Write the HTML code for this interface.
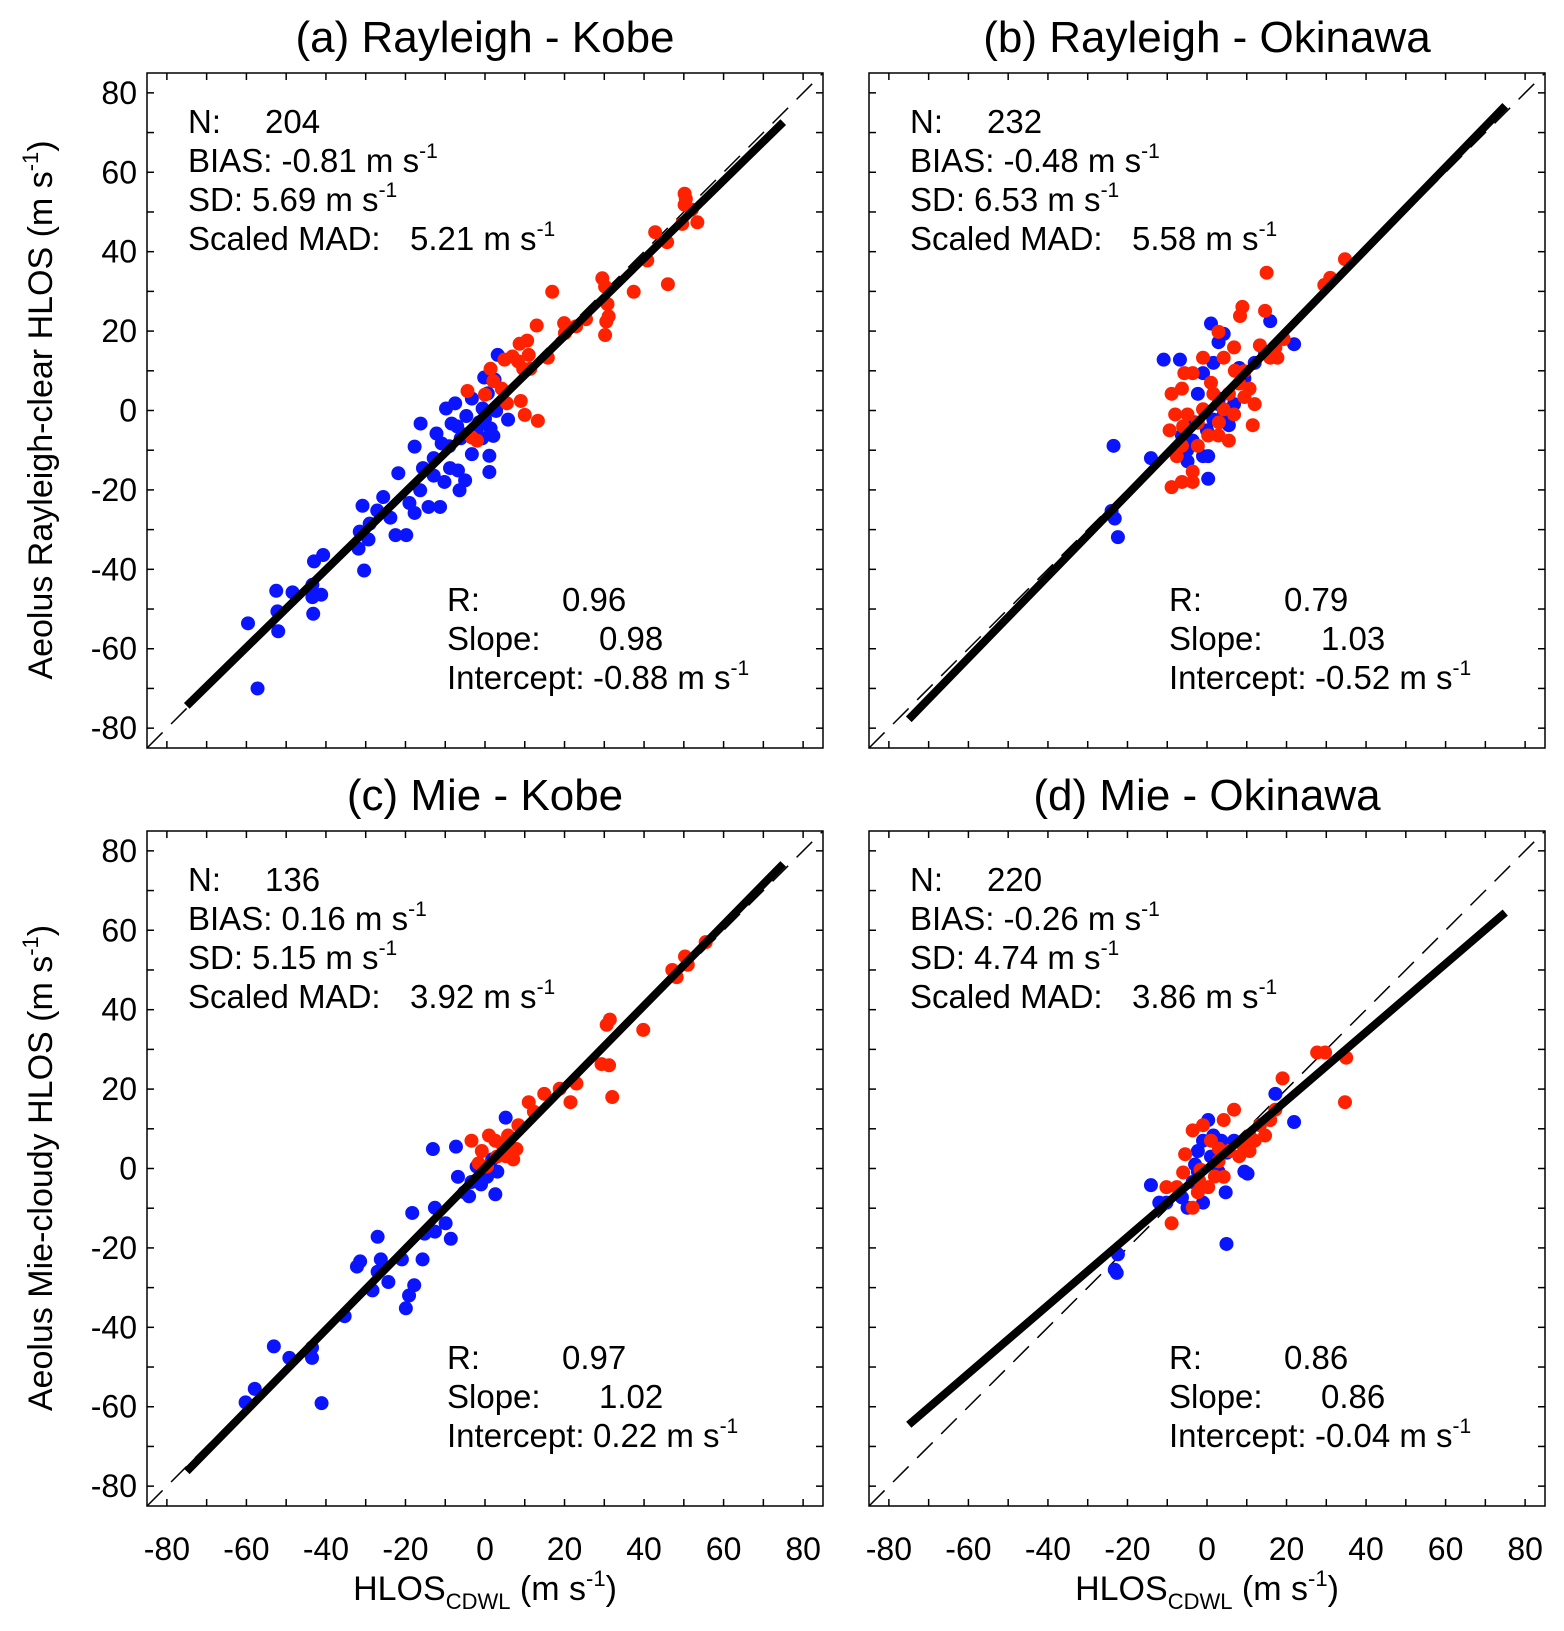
<!DOCTYPE html>
<html><head><meta charset="utf-8"><style>
html,body{margin:0;padding:0;background:#fff;}
svg text{font-family:"Liberation Sans",sans-serif;fill:#000;}
</style></head><body>
<svg id="fig" width="1564" height="1626" viewBox="0 0 1564 1626" xmlns="http://www.w3.org/2000/svg"></svg>
<script>
// ---- data (x = HLOS_CDWL, y = Aeolus HLOS, m/s) ----
const aBlueX=[-59.6,-57.2,-52.5,-52.2,-52,-48.4,-43.4,-43,-40.7,-43.4,-41.2,-43.2,-31.8,-31.5,-30.8,-30.4,-29.3,-29,-27.1,-25.6,-23.8,-22.5,-21.8,-19.8,-19,-17.7,-17.7,-16.3,-16.2,-15.6,-14.2,-12.9,-12.9,-12.2,-11.3,-10.9,-10.2,-9.8,-8.8,-8.4,-7.5,-6.8,-6.4,-6.1,-5,-4.7,-3.3,-3.3,-2,-0.7,-0.2,0,0.7,1.1,1.1,1.4,2.1,2.4,2.8,3.2,5.8,-0.6,-9,-7,-5.5,-1.5];
const aBlueY=[-53.6,-70,-45.4,-50.6,-55.6,-45.8,-43.9,-38,-36.4,-47,-46.4,-51.2,-34.8,-30.5,-24,-40.3,-32.5,-28.5,-25.2,-21.8,-27,-31.4,-15.8,-31.4,-23.3,-25.8,-9.1,-20.1,-3.3,-14.5,-24.3,-16.4,-12,-5.8,-24.3,-8.3,-18,0.5,-14.5,-3.3,1.8,-15.1,-20.1,-7,-17.6,-1.4,-11,3,-4.5,-7,8.3,-2,4.3,-11.4,-15.5,-4.5,-6.4,7.8,-0.1,14,-2.3,0.5,-9,-4,-6,-3];
const aRedX=[-4.4,-3.3,-2,0,1.4,2.1,4.2,4.9,5.5,6.9,8.3,8.7,9,9.6,10,10.6,11,11.4,13,13.3,15.8,16.9,19.9,20.1,22.9,25.4,29.5,30.2,30.5,30.8,31.1,30.2,37.4,40.8,42.8,45.8,46,50.2,50.5,50.2,49.6,53.4,52];
const aRedY=[4.9,-6.8,-7.6,4,10.5,7.4,5.5,12.8,1.8,13.6,12.4,16.8,2.4,10.5,-1.1,17.6,14,10.5,21.4,-2.6,13.3,29.9,22,19.5,21.2,23,33.3,31.2,22.4,26.8,23.7,19,29.9,37.8,44.9,42.4,31.8,54.6,53.3,51.8,47,47.4,50.6];
const bBlueX=[-23.2,-22.4,-24,-23.5,-14.1,-10.9,-6.8,1,2.9,4.2,0.3,-1,-3.6,1.6,4.2,6.8,9.4,12,14.6,15.9,21.9,-6.3,-2.3,-1,2.9,5.5,0.3,-4.9,1.6,8.1,-3,0,3,-5];
const bBlueY=[-27.2,-31.9,-25.3,-8.9,-12,12.8,12.8,21.9,17.2,19.3,-17.2,-11.5,-7.6,-2.3,-1,1.6,8.1,12,14.6,22.5,16.7,-6.3,4.2,9.4,1.6,-3.7,-11.5,-12.8,12,10.7,-3,-5,3,-10];
const bRedX=[34.7,31,29.5,15,8.9,8.3,14.6,19.3,17.7,13.3,2.9,4.2,6.8,9.4,12,11.5,-1,-3.6,-6.3,-8.9,-9.4,-7.6,-8.9,-6.3,-3.6,-4.9,0.3,2.9,5.5,6.8,1.6,-1,-2.3,-6.3,5.5,8.1,10.7,15.9,17.2,-3.6,-2.3,4.2,-5.7,9.4,-8,-6,1,3,7];
const bRedY=[38.1,33.4,31.6,34.7,26.1,23.8,25.1,18,13.3,16.4,19.8,13.3,15.9,9.9,1.6,-3.7,13.3,9.4,5.5,4.2,-5,-11.5,-19.3,-18,-15.4,-1,-6.3,-6.3,-7.6,-1,4.2,0.3,-8.9,-8.9,4.2,6.8,5.5,13.3,15.9,-18,-3.1,0.3,9.4,3.4,-1,-4,7,-3,10];
const cBlueX=[-60.2,-57.9,-53.1,-49.2,-44,-43.5,-43.5,-41.1,-35.3,-31.4,-32.2,-27,-26.2,-27,-28.3,-24.3,-20.9,-19.1,-17.8,-19.9,-18.3,-15.7,-15.2,-12.6,-13.1,-12.6,-9.9,-8.6,-7.3,-6.8,-5.2,-3.4,-2.1,0.5,2.6,3.1,5.2,1.8,-4,-1];
const cBlueY=[-58.9,-55.5,-44.8,-47.7,-46.4,-45.1,-47.7,-59.1,-37.2,-23.4,-24.7,-17.2,-22.9,-26,-30.7,-28.6,-22.9,-32,-29.4,-35.2,-11.2,-22.9,-16.4,-15.9,4.9,-9.9,-13.8,-17.7,5.5,-2.1,-6,-3.4,0.5,-2.1,-6.5,-0.8,12.8,2.3,-7,-4];
const cRedX=[-3.4,-0.8,1,2.6,4.5,5.8,7.9,8.4,7.1,5.2,-1.6,0.5,11,12.3,14.9,18.8,21.5,23,29.3,30.6,31.4,31.2,32,39.8,47.1,48.2,50.3,51,55.5,3,6];
const cRedY=[7,4.4,8.3,7,5.7,8.3,4.9,10.9,2.3,3.1,1.3,0.5,16.7,14.3,18.8,20.1,16.7,21.4,26.3,36.2,37.5,26,18,34.9,50,48.2,53.4,51.3,57,3,6];
const dBlueX=[-22.4,-23.2,-22.7,-14.1,-12,-10.2,-6.3,-3.6,-2.3,-1,0.3,1.6,2.9,4.7,4.9,3.6,6.8,9.4,10.2,17.2,21.9,-1,-2.3,-4.9,1,-3,5];
const dBlueY=[-21.6,-25.5,-26.3,-4.2,-8.6,-8.6,-7.3,-3.4,4.4,7,12.2,8.3,-0.8,-6,-19,7,7,-0.8,-1.3,18.8,11.7,-8.6,-0.8,-9.9,3,1,4];
const dRedX=[34.7,35,27.7,29.7,19,17.2,15.9,13.3,10.7,6.8,4.2,-1,-3.6,-5.5,-8.9,-7.6,-3.6,-2.3,0.3,2.9,5.5,8.1,10.7,12,14.6,1,4.2,-1.6,-10.2,-6,-2,3,9,2];
const dRedY=[16.7,27.9,29.2,29.2,22.7,14.8,12.2,10.9,8.3,14.8,12.2,10.9,9.6,3.6,-13.8,-4.7,-9.9,-6,-4.7,1.8,4.4,3.1,4.4,7,8.3,7,-2.1,-0.3,-4.7,-1,-3,5,6,-2];
const slopes=[0.98,1.03,1.02,0.86];
const intercepts=[-0.88,-0.52,0.22,-0.04];
const titles=["(a) Rayleigh - Kobe","(b) Rayleigh - Okinawa","(c) Mie - Kobe","(d) Mie - Okinawa"];
const statN=["204","232","136","220"];
const statBias=["-0.81","-0.48","0.16","-0.26"];
const statSD=["5.69","6.53","5.15","4.74"];
const statMAD=["5.21","5.58","3.92","3.86"];
const statR=["0.96","0.79","0.97","0.86"];
const statSlope=["0.98","1.03","1.02","0.86"];
const statInt=["-0.88","-0.52","0.22","-0.04"];
const tickVals=[-80,-60,-40,-20,0,20,40,60,80];
const minorVals=[-80,-70,-60,-50,-40,-30,-20,-10,0,10,20,30,40,50,60,70,80];

const NS="http://www.w3.org/2000/svg";
const svg=document.getElementById('fig');
function mk(tag,attrs,parent){const e=document.createElementNS(NS,tag);for(const k in attrs)e.setAttribute(k,attrs[k]);(parent||svg).appendChild(e);return e;}
const W=676,H=675,LO=-85,HI=85;
const panels=[{x:147,y:73},{x:869,y:73},{x:147,y:831},{x:869,y:831}];
const blues=[[aBlueX,aBlueY],[bBlueX,bBlueY],[cBlueX,cBlueY],[dBlueX,dBlueY]];
const reds=[[aRedX,aRedY],[bRedX,bRedY],[cRedX,cRedY],[dRedX,dRedY]];
const keys=['a','b','c','d'];

function supText(parent,x,y,pre,name){
  const t=mk('text',{x:x,y:y,'font-size':33},parent);
  
  
  t.appendChild(document.createTextNode(pre));
  const s=mk('tspan',{dy:-14,'font-size':21},t);s.textContent='-1';
  return t;
}
function plain(parent,x,y,str,name){
  const t=mk('text',{x:x,y:y,'font-size':33},parent);
  
  
  t.textContent=str;
  return t;
}

panels.forEach((p,i)=>{
  const sx=v=>p.x+(v-LO)/(HI-LO)*W;
  const sy=v=>p.y+H-(v-LO)/(HI-LO)*H;
  const g=mk('g',{});
  
  
  const title=mk('text',{x:p.x+W/2,y:p.y-21,'font-size':44,'text-anchor':'middle'},g);
  
  
  title.textContent=titles[i];
  minorVals.forEach(v=>{
    const X=sx(v),Y=sy(v);
    [[X,p.y+H,X,p.y+H-7],[X,p.y,X,p.y+7],[p.x,Y,p.x+7,Y],[p.x+W,Y,p.x+W-7,Y]].forEach(c=>{
      const l=mk('line',{x1:c[0],y1:c[1],x2:c[2],y2:c[3],stroke:'#000','stroke-width':1.5},g);
      
      
    });
  });
  if(i%2===0){
    tickVals.forEach(v=>{
      const t=mk('text',{x:p.x-10,y:sy(v)+11,'font-size':32,'text-anchor':'end'},g);
      
      
      t.textContent=v;
    });
  }
  if(i>=2){
    tickVals.forEach(v=>{
      const t=mk('text',{x:sx(v),y:p.y+H+54,'font-size':32,'text-anchor':'middle'},g);
      
      
      t.textContent=v;
    });
  }
  const cp=mk('clipPath',{id:'clip'+i},g);
  mk('rect',{x:p.x,y:p.y,width:W,height:H},cp);
  const inner=mk('g',{'clip-path':'url(#clip'+i+')'},g);
  const d=mk('line',{x1:sx(LO),y1:sy(LO),x2:sx(HI),y2:sy(HI),stroke:'#000','stroke-width':1.5,'stroke-dasharray':'22 12'},inner);
  
  
  const pts=[[blues[i],'#0a14ff','blue-point'],[reds[i],'#ff2200','red-point']];
  pts.forEach(([arr,col,nm])=>{
    arr[0].forEach((xv,j)=>{
      const c=mk('circle',{cx:sx(xv),cy:sy(arr[1][j]),r:7,fill:col},inner);
      
      
    });
  });
  const fl=mk('line',{x1:sx(-75),y1:sy(slopes[i]*-75+intercepts[i]),x2:sx(75),y2:sy(slopes[i]*75+intercepts[i]),stroke:'#000','stroke-width':8},inner);
  
  
  const box=mk('rect',{x:p.x,y:p.y,width:W,height:H,fill:'none',stroke:'#000','stroke-width':1.5},g);
  
  
  const tx=p.x+41, ty=p.y+60;
  plain(g,tx,ty,'N:','stat-n');
  plain(g,tx+77,ty,statN[i],'stat-n-value');
  supText(g,tx,ty+39,'BIAS: '+statBias[i]+' m s','stat-bias');
  plain(g,tx,ty+78,'SD:','stat-sd');
  supText(g,tx+64,ty+78,statSD[i]+' m s','stat-sd-value');
  plain(g,tx,ty+117,'Scaled MAD:','stat-mad');
  supText(g,tx+222,ty+117,statMAD[i]+' m s','stat-mad-value');
  const rx=p.x+300, ry=p.y+538;
  plain(g,rx,ry,'R:','stat-r');
  plain(g,rx+115,ry,statR[i],'stat-r-value');
  plain(g,rx,ry+39,'Slope:','stat-slope');
  plain(g,rx+152,ry+39,statSlope[i],'stat-slope-value');
  plain(g,rx,ry+78,'Intercept:','stat-intercept');
  supText(g,rx+146,ry+78,statInt[i]+' m s','stat-intercept-value');
});

function axisTitle(x,y,rot,main,sub,name){
  const t=mk('text',{x:x,y:y,'font-size':34,'text-anchor':'middle',transform:rot?'rotate(-90 '+x+' '+y+')':''});
  
  
  t.appendChild(document.createTextNode(main));
  if(sub){const s=mk('tspan',{dy:9,'font-size':22},t);s.textContent=sub;
    const r=mk('tspan',{dy:-9},t);r.textContent=' (m s';}
  else t.appendChild(document.createTextNode(' (m s'));
  const e=mk('tspan',{dy:-14,'font-size':22},t);e.textContent='-1';
  const c=mk('tspan',{dy:14},t);c.textContent=')';
}
axisTitle(52,410,true,'Aeolus Rayleigh-clear HLOS',null,'y-axis-title-rayleigh');
axisTitle(52,1168,true,'Aeolus Mie-cloudy HLOS',null,'y-axis-title-mie');
axisTitle(485,1600,false,'HLOS','CDWL','x-axis-title-left');
axisTitle(1207,1600,false,'HLOS','CDWL','x-axis-title-right');
</script>
</body></html>
